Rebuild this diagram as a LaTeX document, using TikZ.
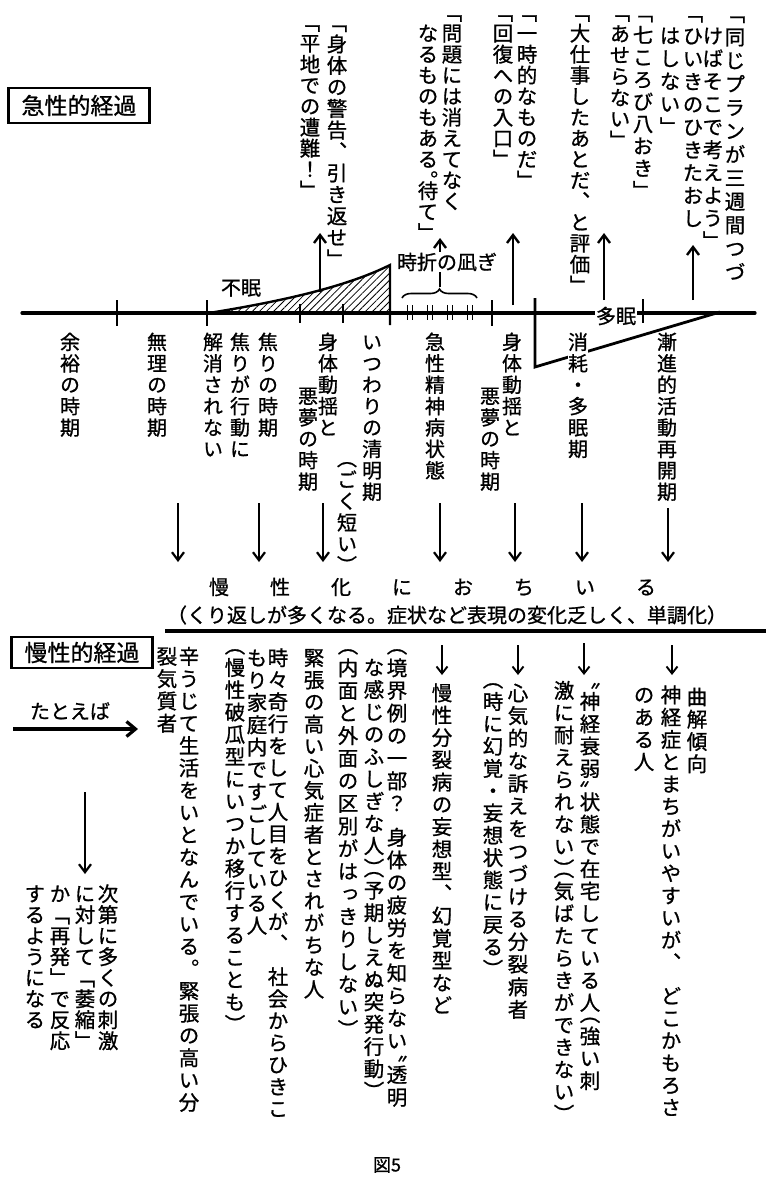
\documentclass[tikz,border=0pt]{standalone}
\usepackage{fontspec}
\usetikzlibrary{arrows.meta,patterns.meta,decorations.pathreplacing}
\newfontfamily\jp[FakeBold=0.9]{Noto Sans CJK JP}
\newfontfamily\vjp[RawFeature=+vert,FakeBold=0.9]{Noto Sans CJK JP}
\newdimen\vtP \newdimen\vtcur \newdimen\vtlast \newdimen\vtoff \newdimen\vtpos
\newif\ifvthb \newif\ifvtha \newif\ifvtblank
\def\vtstop{\vtstop}
\newcommand\vcol[2][22pt]{\vbox{\offinterlineskip\vtP=#1\relax
  \vtoff=\dimexpr(\vtP-1em)/2+0.88em\relax
  \vtcur=0pt\vtlast=0pt
  \vtloop#2\vtstop
  \kern\dimexpr\vtcur-\vtlast\relax}}
\def\vtloop#1{\ifx#1\vtstop\else\vtchar#1\expandafter\vtloop\fi}
\def\vtglyph#1{\ifx#1「﹁\else\ifx#1」﹂\else\ifx#1、︑\else\ifx#1。︒\else\ifx#1（︵\else\ifx#1）︶\else#1\fi\fi\fi\fi\fi\fi}
\def\vtchar#1{%
  \vthbfalse\vthafalse\vtblankfalse
  \ifx#1（\vthbtrue\fi
  \ifx#1〝\vthbtrue\fi
  \ifx#1）\vthatrue\fi
  \ifx#1〟\vthatrue\fi
  \ifx#1。\vthatrue\fi
  \ifx#1」\vthatrue\fi
  \ifx#1*\vtblanktrue\vthatrue\fi
  \ifx#1+\vtblanktrue\fi
  \ifvthb \vtpos=\dimexpr\vtcur-\vtP/2+\vtoff\relax \advance\vtcur by .5\vtP
  \else\ifvtha \vtpos=\dimexpr\vtcur+\vtoff\relax \advance\vtcur by .5\vtP
  \else \vtpos=\dimexpr\vtcur+\vtoff\relax \advance\vtcur by \vtP \fi\fi
  \ifvtblank\else
    \kern\dimexpr\vtpos-\vtlast\relax \vtlast=\vtpos
    \hbox to 1em{\hss\smash{\vtglyph#1}\hss}%
  \fi}
\begin{document}
\begin{tikzpicture}[x=1pt,y=-1pt,
  vtop/.style={inner sep=0pt,anchor=north,font=\vjp\fontsize{20.5}{22}\selectfont},
  vlab/.style={inner sep=0pt,anchor=north,font=\vjp\fontsize{20}{22}\selectfont},
  vlow/.style={inner sep=0pt,anchor=north,font=\vjp\fontsize{20.5}{22}\selectfont},
  hlab/.style={inner sep=0pt,font=\jp\fontsize{20}{24}\selectfont},
  titlebox/.style={draw,line width=2.2pt,inner sep=0pt,minimum width=141pt,minimum height=35pt,font=\jp\fontsize{23}{26}\selectfont},
  mainline/.style={line width=3.2pt,line cap=round},
  tickline/.style={line width=2.3pt},
  thintick/.style={line width=1.5pt},
  uparrow/.style={line width=2.4pt,-{Straight Barb[length=8pt,width=12pt]}},
  dnarrow/.style={line width=2.2pt,-{Straight Barb[length=8pt,width=12pt]}},
  smallarrow/.style={line width=1.9pt,-{Straight Barb[length=7pt,width=11pt]}}]
\useasboundingbox (0,0) rectangle (771,1186);
\fill[white] (0,0) rectangle (771,1186);

% ---------------- acute course ----------------
\node[titlebox] (kyusei) at (79,105.5) {急性的経過};

\coordinate (L0) at (22,313);
\coordinate (L1) at (755,313);
\draw[mainline] (L0) -- (L1);

% hatched insomnia area
\coordinate (h0) at (209,313);
\coordinate (h1) at (390,265);
\coordinate (h2) at (390,313);
\coordinate (h3) at (390,325);
\fill[pattern={Lines[angle=45,distance=5pt,line width=0.8pt]}] (h0) .. controls (290,300) and (350,285) .. (h1) -- (h2) -- cycle;
\draw[line width=2.4pt] (h0) .. controls (290,300) and (350,285) .. (h1) -- (h3);

% hypersomnia shape
\coordinate (m0) at (535,298);
\coordinate (m1) at (535,367);
\coordinate (m2) at (720,312);
\draw[line width=2.8pt] (m0) -- (m1) -- (m2);

% ticks
\foreach \n/\x/\ya/\yb in {1/117/300/326,2/207/300/326,3/492/300/326,4/643/299/323,5/300/304/323,6/343/304/323}{
  \coordinate (ta\n) at (\x,\ya); \coordinate (tb\n) at (\x,\yb);
  \draw[tickline] (ta\n) -- (tb\n);}
\foreach \n/\x in {1/410,2/430,3/450,4/470}{
  \coordinate (da\n) at ({\x-2.3},305); \coordinate (db\n) at ({\x-2.3},320);
  \coordinate (dc\n) at ({\x+2.3},305); \coordinate (dd\n) at ({\x+2.3},320);
  \draw[thintick] (da\n) -- (db\n); \draw[thintick] (dc\n) -- (dd\n);}

% brace
\coordinate (br0) at (402,298);
\coordinate (br1) at (477,298);
\draw[decorate,decoration={brace,amplitude=9pt},line width=1.6pt] (br0) -- (br1);

% up arrows
\foreach \n/\x/\ya/\yb in {1/320/292/233,2/440/287/238,3/513/305/233,4/604/300/233,5/693/300/245}{
  \coordinate (ua\n) at (\x,\ya); \coordinate (ub\n) at (\x,\yb);
  \draw[uparrow] (ua\n) -- (ub\n);}

\node[hlab] (fumin) at (241,288) {不眠};
\node[hlab,fill=white,inner sep=1pt] (nagi) at (447,262) {時折の凪ぎ};
\node[hlab,fill=white,inner sep=1pt] (tamin) at (616,316) {多眠};

% top quotes
\node[vtop] (pA) at (735,1.5) {\vcol[23.5pt]{「同じプランが三週間つづ}};
\node[vtop] (pB) at (713,24) {\vcol[22.8pt]{けばそこで考えよう」}};
\node[vtop] (pC) at (693,1.5) {\vcol[22.8pt]{「ひいきのひきたおし}};
\node[vtop] (pD) at (670,24) {\vcol[22.8pt]{はしない」}};
\node[vtop] (pE) at (643,1.5) {\vcol[22.2pt]{「七ころび八おき」}};
\node[vtop] (pF) at (620,1.5) {\vcol[21.3pt]{「あせらない」}};
\node[vtop] (pG) at (580,1.5) {\vcol[21pt]{「大仕事したあとだ、と評価」}};
\node[vtop] (pH) at (527,1.5) {\vcol[21pt]{「一時的なものだ」}};
\node[vtop] (pI) at (503,1.5) {\vcol[21pt]{「回復への入口」}};
\node[vtop] (pJ) at (452,1.5) {\vcol[21pt]{「問題には消えてなく}};
\node[vtop] (pK) at (428,22.5) {\vcol[21pt]{なるものもある。待て」}};
\node[vtop] (pL) at (337,11.5) {\vcol[21.5pt]{「身体の警告、引き返せ」}};
\node[vtop] (pM) at (310,11.5) {\vcol[21pt]{「平地での遭難！」}};

% period labels
\node[vlab] (t1) at (70,331) {\vcol[21.4pt]{余裕の時期}};
\node[vlab] (t2) at (157,331) {\vcol[21.4pt]{無理の時期}};
\node[vlab] (t3) at (268,331) {\vcol[21.4pt]{焦りの時期}};
\node[vlab] (t4) at (240,331) {\vcol[21.4pt]{焦りが行動に}};
\node[vlab] (t5) at (213,331) {\vcol[21.4pt]{解消されない}};
\node[vlab] (t6) at (328,331) {\vcol[21.4pt]{身体動揺と}};
\node[vlab] (t7) at (308,385) {\vcol[21.4pt]{悪夢の時期}};
\node[vlab] (t8) at (372,331) {\vcol[21.4pt]{いつわりの清明期}};
\node[vlab] (t9) at (347,458) {\vcol[21.4pt]{（ごく短い）}};
\node[vlab] (t10) at (435,331) {\vcol[21.4pt]{急性精神病状態}};
\node[vlab] (t11) at (512,331) {\vcol[21.4pt]{身体動揺と}};
\node[vlab] (t12) at (490,385) {\vcol[21.4pt]{悪夢の時期}};
\node[vlab,fill=white] (t13) at (578,331) {\vcol[21.4pt]{消耗・多眠期}};
\node[vlab] (t14) at (667,331) {\vcol[21.4pt]{漸進的活動再開期}};

% down arrows to chronicity
\foreach \n/\x/\ya in {1/178/503,2/259/503,3/323/503,4/440/503,5/515/503,6/582/503,7/668/508}{
  \coordinate (va\n) at (\x,\ya); \coordinate (vb\n) at (\x,562);
  \draw[dnarrow] (va\n) -- (vb\n);}

\node[hlab] (mansei) at (432.5,587) {慢\kern41pt 性\kern41pt 化\kern41pt に\kern41pt お\kern41pt ち\kern41pt い\kern41pt る};
\node[hlab] (kurikaeshi) at (447,615) {（くり返しが多くなる。症状など表現の変化乏しく、単調化）};

% ---------------- chronic course ----------------
\coordinate (K0) at (165,631);
\coordinate (K1) at (766,631);
\draw[line width=3.2pt] (K0) -- (K1);
\node[titlebox,minimum height=31pt] (manseik) at (82,652.5) {慢性的経過};

\node[hlab] (tatoeba) at (70,711) {たとえば};
\coordinate (ta0) at (13,729);
\coordinate (ta1) at (138,729);
\draw[line width=3.2pt,-{Straight Barb[length=9pt,width=15pt]}] (ta0) -- (ta1);
\coordinate (sa0) at (85,792);
\coordinate (sa1) at (85,874);
\draw[dnarrow] (sa0) -- (sa1);

\foreach \n/\x/\ya in {1/442/645,2/518/645,3/584/643,4/672/645}{
  \coordinate (wa\n) at (\x,\ya); \coordinate (wb\n) at (\x,675);
  \draw[smallarrow] (wa\n) -- (wb\n);}

\node[vlow] (c1) at (697,685.5) {\vcol[22.3pt]{曲解傾向}};
\node[vlow] (c2) at (671,683.5) {\vcol[22.3pt]{神経症とまちがいやすいが、*どこかもろさ}};
\node[vlow] (c3) at (644,683.5) {\vcol[22.3pt]{のある人}};
\node[vlow] (c4) at (590,679) {\vcol[22.3pt]{〝神経衰弱〟状態で在宅している人（強い刺}};
\node[vlow] (c5) at (564,679) {\vcol[22.3pt]{激に耐えられない）（気ばたらきができない）}};
\node[vlow] (c6) at (518,681.5) {\vcol[22.6pt]{心気的な訴えをつづける分裂病者}};
\node[vlow] (c7) at (493,679) {\vcol[22.3pt]{（時に幻覚・妄想状態に戻る）}};
\node[vlow] (c8) at (442,681.5) {\vcol[22.3pt]{慢性分裂病の妄想型、幻覚型など}};
\node[vlow] (c9) at (397,645) {\vcol[22.6pt]{（境界例の一部？*身体の疲労を知らない〝透明}};
\node[vlow] (c10) at (374,656) {\vcol[22.3pt]{な感じのふしぎな人）（予期しえぬ突発行動）}};
\node[vlow] (c11) at (348,645) {\vcol[22.6pt]{（内面と外面の区別がはっきりしない）}};
\node[vlow] (c12) at (314,646.5) {\vcol[22.1pt]{緊張の高い心気症者とされがちな人}};
\node[vlow] (c13) at (278,646.5) {\vcol[22pt]{時々奇行をして人目をひくが、*社会からひきこ}};
\node[vlow] (c14) at (257,646.5) {\vcol[22.3pt]{もり家庭内ですごしている人}};
\node[vlow] (c15) at (235,645) {\vcol[22.3pt]{（慢性破瓜型にいつか移行することも）}};
\node[vlow] (c16) at (189,645) {\vcol[22.3pt]{辛うじて生活をいとなんでいる。*緊張の高い分}};
\node[vlow] (c17) at (167,645) {\vcol[22.3pt]{裂気質者}};

\node[vlow] (s1) at (108,883) {\vcol[21pt]{次第に多くの刺激}};
\node[vlow] (s2) at (85,883) {\vcol[21pt]{に対して「萎縮」}};
\node[vlow] (s3) at (60,883) {\vcol[21pt]{か「再発」*で反応}};
\node[vlow] (s4) at (35,883) {\vcol[21pt]{するようになる}};

\node[inner sep=0pt,font=\jp\fontsize{18}{20}\selectfont] (fig) at (387,1165) {図5};
\end{tikzpicture}
\end{document}
